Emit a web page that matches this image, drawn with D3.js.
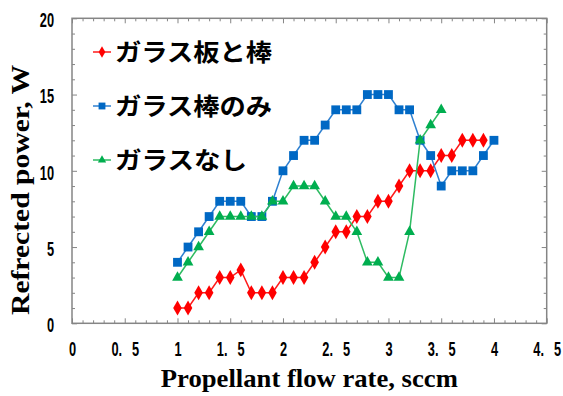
<!DOCTYPE html>
<html>
<head>
<meta charset="utf-8">
<script src="https://cdn.jsdelivr.net/npm/d3@7"></script>
<style>
  body { margin: 0; background: #fff; }
  svg { display: block; }
</style>
</head>
<body>
<script>
var width = 563, height = 396;
var margin = { top: 18.3, right: 16.3, bottom: 72.7, left: 72 };

// flow rate (sccm)
var flowPlateRod = [1.0, 1.1, 1.2, 1.3, 1.4, 1.5, 1.6, 1.7, 1.8, 1.9, 2.0, 2.1, 2.2, 2.3, 2.4, 2.5, 2.6, 2.7, 2.8, 2.9, 3.0, 3.1, 3.2, 3.3, 3.4, 3.5, 3.6, 3.7, 3.8, 3.9];
var powerPlateRod = [1, 1, 2, 2, 3, 3, 3.5, 2, 2, 2, 3, 3, 3, 4, 5, 6, 6, 7, 7, 8, 8, 9, 10, 10, 10, 11, 11, 12, 12, 12];

var flowRodOnly = [1.0, 1.1, 1.2, 1.3, 1.4, 1.5, 1.6, 1.7, 1.8, 1.9, 2.0, 2.1, 2.2, 2.3, 2.4, 2.5, 2.6, 2.7, 2.8, 2.9, 3.0, 3.1, 3.2, 3.3, 3.4, 3.5, 3.6, 3.7, 3.8, 3.9, 4.0];
var powerRodOnly = [4, 5, 6, 7, 8, 8, 8, 7, 7, 8, 10, 11, 12, 12, 13, 14, 14, 14, 15, 15, 15, 14, 14, 12, 11, 9, 10, 10, 10, 11, 12];

var flowNoGlass = [1.0, 1.1, 1.2, 1.3, 1.4, 1.5, 1.6, 1.7, 1.8, 1.9, 2.0, 2.1, 2.2, 2.3, 2.4, 2.5, 2.6, 2.7, 2.8, 2.9, 3.0, 3.1, 3.2, 3.3, 3.4, 3.5];
var powerNoGlass = [3, 4, 5, 6, 7, 7, 7, 7, 7, 8, 8, 9, 9, 9, 8, 7, 7, 6, 4, 4, 3, 3, 6, 12, 13, 14];

var seriesNames = ["ガラス板と棒", "ガラス棒のみ", "ガラスなし"];

var xTicks = [0, 0.5, 1, 1.5, 2, 2.5, 3, 3.5, 4, 4.5];
var xTickLabels = ["0", "0. 5", "1", "1. 5", "2", "2. 5", "3", "3. 5", "4", "4. 5"];
var yTicks = [0, 5, 10, 15, 20];

var xTitle = "Propellant flow rate, sccm";
var yTitle = "Refrected power, W";

var series = [
  { name: seriesNames[0], xs: flowPlateRod, ys: powerPlateRod, color: "#ff0000", line: "#ff1a1a", shape: d3.symbolDiamond, size: 64 },
  { name: seriesNames[1], xs: flowRodOnly, ys: powerRodOnly, color: "#0068c4", line: "#2f80d0", shape: d3.symbolSquare, size: 78 },
  { name: seriesNames[2], xs: flowNoGlass, ys: powerNoGlass, color: "#00ae4f", line: "#2ebb62", shape: d3.symbolTriangle, size: 50 }
];

var x = d3.scaleLinear([0, 4.5], [margin.left, width - margin.right]);
var y = d3.scaleLinear([0, 20], [height - margin.bottom, margin.top]);

var svg = d3.select("body").append("svg")
    .attr("width", width)
    .attr("height", height);

var axisColor = "#858585";
var tickFont = "'Liberation Sans', Arial, sans-serif";
var squeeze = 0.64; // narrow digits like the original

var minorX = d3.range(0, 46).map(i => i / 10).filter(v => Math.round(v * 10) % 5 !== 0);
var minorY = d3.range(0, 21).filter(v => v % 5 !== 0);

function styleAxis(g) {
  g.select(".domain").remove();
  g.selectAll("line").attr("stroke", axisColor).attr("stroke-width", 1);
}

function styleTicks(g) {
  g.selectAll("text")
    .attr("fill", "#000")
    .attr("transform", `scale(${squeeze}, 1)`)
    .style("font-family", tickFont)
    .style("font-size", "20px")
    .style("font-weight", "bold")
    .style("word-spacing", "10px");
}

// bottom axis
svg.append("g")
    .attr("transform", `translate(0, ${y(0)})`)
    .call(d3.axisBottom(x).tickValues(minorX).tickSize(-3).tickFormat(""))
    .call(styleAxis);
svg.append("g")
    .attr("transform", `translate(0, ${y(0)})`)
    .call(d3.axisBottom(x).tickValues(xTicks).tickSize(-5).tickPadding(19)
      .tickFormat((d, i) => xTickLabels[i]))
    .call(styleAxis)
    .call(styleTicks);

// top axis ticks
svg.append("g")
    .attr("transform", `translate(0, ${y(20)})`)
    .call(d3.axisTop(x).tickValues(minorX).tickSize(-3).tickFormat(""))
    .call(styleAxis);
svg.append("g")
    .attr("transform", `translate(0, ${y(20)})`)
    .call(d3.axisTop(x).tickValues(xTicks).tickSize(-5).tickFormat(""))
    .call(styleAxis);

// left axis
svg.append("g")
    .attr("transform", `translate(${x(0)}, 0)`)
    .call(d3.axisLeft(y).tickValues(minorY).tickSize(-3).tickFormat(""))
    .call(styleAxis);
svg.append("g")
    .attr("transform", `translate(${x(0)}, 0)`)
    .call(d3.axisLeft(y).tickValues(yTicks).tickSize(-5))
    .call(styleAxis)
    .call(styleTicks)
    .call(g => g.selectAll("text")
      .attr("x", -18 / squeeze)
      .attr("dy", "0.42em"));

// right axis ticks
svg.append("g")
    .attr("transform", `translate(${x(4.5)}, 0)`)
    .call(d3.axisRight(y).tickValues(minorY).tickSize(-3).tickFormat(""))
    .call(styleAxis);
svg.append("g")
    .attr("transform", `translate(${x(4.5)}, 0)`)
    .call(d3.axisRight(y).tickValues(yTicks).tickSize(-5).tickFormat(""))
    .call(styleAxis);

// frame
svg.append("rect")
    .attr("x", x(0))
    .attr("y", y(20))
    .attr("width", x(4.5) - x(0))
    .attr("height", y(0) - y(20))
    .attr("fill", "none")
    .attr("stroke", axisColor)
    .attr("stroke-width", 1.5);

// series
var line = d3.line().x(d => x(d[0])).y(d => y(d[1]));

series.forEach(s => {
  var pts = s.xs.map((v, i) => [v, s.ys[i]]);
  svg.append("path")
      .datum(pts)
      .attr("fill", "none")
      .attr("stroke", s.line)
      .attr("stroke-width", 1.5)
      .attr("d", line);
  svg.append("g")
      .selectAll("path")
      .data(pts)
      .join("path")
      .attr("transform", d => `translate(${x(d[0])}, ${y(d[1])})`)
      .attr("d", d3.symbol(s.shape, s.size))
      .attr("fill", s.color);
});

// legend
var legend = svg.append("g")
    .selectAll("g")
    .data(series)
    .join("g")
    .attr("transform", (d, i) => `translate(93, ${52 + i * 54})`);
legend.append("line")
    .attr("x1", 0).attr("x2", 18)
    .attr("stroke", d => d.line)
    .attr("stroke-width", 1.5);
legend.append("path")
    .attr("transform", "translate(9, 0)")
    .attr("d", d => d3.symbol(d.shape, d.size * 0.6)())
    .attr("fill", d => d.color);
legend.append("text")
    .attr("x", 22)
    .attr("dy", "0.36em")
    .attr("textLength", 157)
    .attr("lengthAdjust", "spacingAndGlyphs")
    .style("font-family", "'Noto Sans CJK JP', sans-serif")
    .style("font-size", "24px")
    .style("font-weight", "bold")
    .text(d => d.name);
legend.filter((d, i) => i === 2).select("text").attr("textLength", 132);

// axis titles
svg.append("text")
    .attr("x", (x(0) + x(4.5)) / 2)
    .attr("y", 387)
    .attr("text-anchor", "middle")
    .attr("textLength", 297)
    .attr("lengthAdjust", "spacingAndGlyphs")
    .style("font-family", "'Liberation Serif', 'Times New Roman', serif")
    .style("font-size", "25px")
    .style("font-weight", "bold")
    .text(xTitle);

svg.append("text")
    .attr("transform", `translate(29, 190) rotate(-90)`)
    .attr("text-anchor", "middle")
    .attr("textLength", 250)
    .attr("lengthAdjust", "spacingAndGlyphs")
    .style("font-family", "'Liberation Serif', 'Times New Roman', serif")
    .style("font-size", "25px")
    .style("font-weight", "bold")
    .text(yTitle);
</script>
</body>
</html>
